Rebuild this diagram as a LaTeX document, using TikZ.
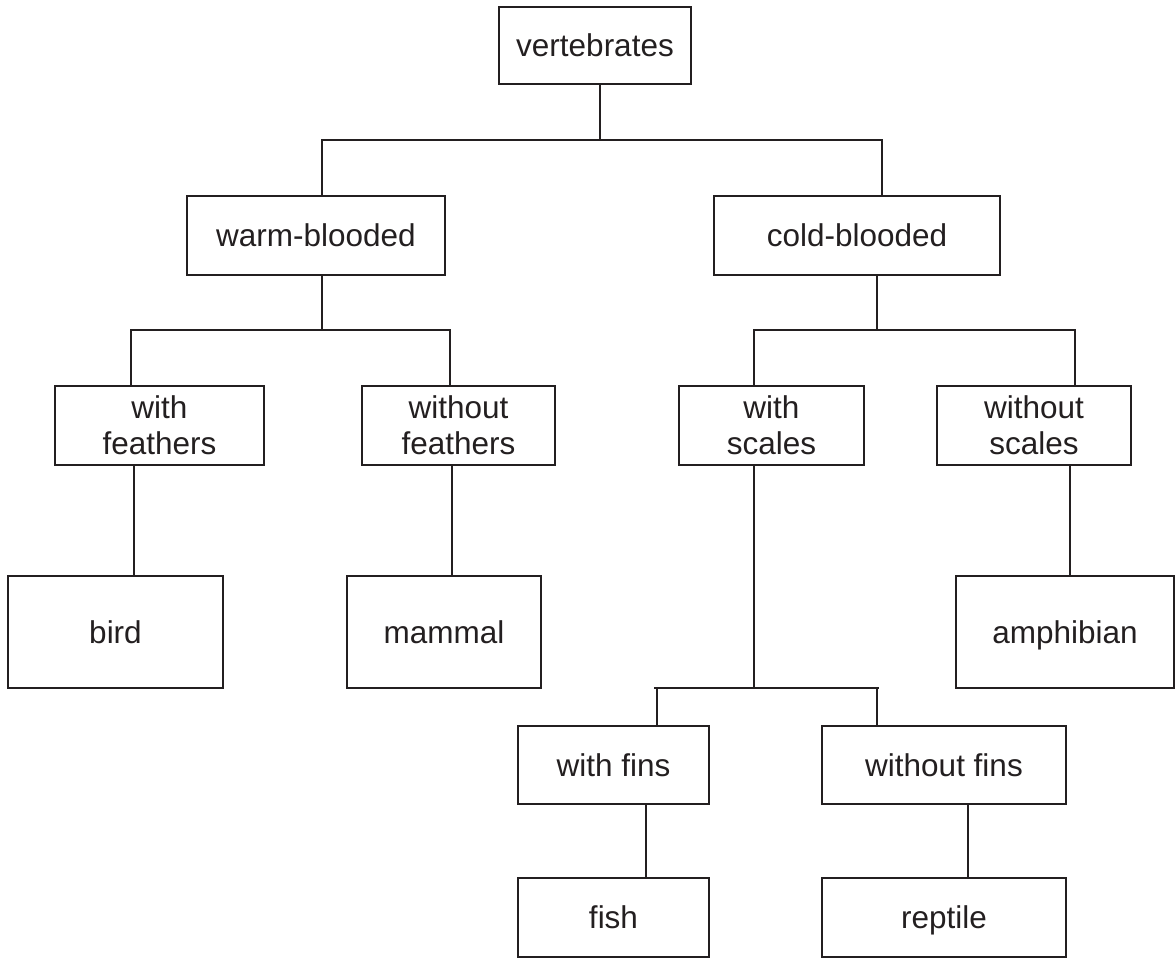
\documentclass[tikz,border=0pt]{standalone}
\usepackage{fontspec}
\setmainfont{Liberation Sans}
\definecolor{ink}{RGB}{35,31,32}
\begin{document}
\begin{tikzpicture}[x=1pt,y=-1pt,
  box/.style={draw=ink, line width=2.5pt, rectangle, inner sep=0pt, outer sep=0pt,
    align=center, text=ink, font=\fontsize{31.5}{36}\selectfont},
  onebox/.style={box, text height=22.5pt, text depth=0pt},
  link/.style={draw=ink, line width=2pt}]
\useasboundingbox (0,0) rectangle (1176,958);

% boxes
\node[onebox, minimum width=192pt, minimum height=77pt] (vert) at (595,45.5) {vertebrates};
\node[onebox, minimum width=258pt, minimum height=79pt] (warm) at (316,235.5) {warm-blooded};
\node[onebox, minimum width=286pt, minimum height=79pt] (cold) at (857,235.5) {cold-blooded};
\node[box, minimum width=209pt, minimum height=79pt] (withF) at (159.5,425.5) {with\\feathers};
\node[box, minimum width=193pt, minimum height=79pt] (withoutF) at (458.5,425.5) {without\\feathers};
\node[box, minimum width=185pt, minimum height=79pt] (withS) at (771.5,425.5) {with\\scales};
\node[box, minimum width=194pt, minimum height=79pt] (withoutS) at (1034,425.5) {without\\scales};
\node[onebox, minimum width=215pt, minimum height=112pt] (bird) at (115.5,632) {bird};
\node[onebox, minimum width=194pt, minimum height=112pt] (mammal) at (444,632) {mammal};
\node[onebox, minimum width=218pt, minimum height=112pt] (amph) at (1065,632) {amphibian};
\node[onebox, minimum width=191pt, minimum height=78pt] (fins) at (613.5,765) {with fins};
\node[onebox, minimum width=244pt, minimum height=78pt] (nofins) at (944,765) {without fins};
\node[onebox, minimum width=191pt, minimum height=79pt] (fish) at (613.5,917.5) {fish};
\node[onebox, minimum width=244pt, minimum height=79pt] (reptile) at (944,917.5) {reptile};

% junction points of the branching lines
\coordinate (b1m) at (600,140);
\coordinate (b1l) at (322,140);
\coordinate (b1r) at (882,140);
\coordinate (b2m) at (322,330);
\coordinate (b2l) at (131,330);
\coordinate (b2r) at (450,330);
\coordinate (b3m) at (877,330);
\coordinate (b3l) at (754,330);
\coordinate (b3r) at (1075,330);
\coordinate (b4m) at (754,688);
\coordinate (b4l) at (657,688);
\coordinate (b4r) at (877,688);
\coordinate (vbird) at (134,520);
\coordinate (vmammal) at (452,520);
\coordinate (vamph) at (1070,520);
\coordinate (vfish) at (646,840);
\coordinate (vreptile) at (968,840);

% vertebrates
\draw[link] (vert.south -| b1m) -- (b1m);
\draw[link] (warm.north -| b1l) -- (b1l) -- (b1r) -- (cold.north -| b1r);
% warm-blooded
\draw[link] (warm.south -| b2m) -- (b2m);
\draw[link] (withF.north -| b2l) -- (b2l) -- (b2r) -- (withoutF.north -| b2r);
% cold-blooded
\draw[link] (cold.south -| b3m) -- (b3m);
\draw[link] (withS.north -| b3l) -- (b3l) -- (b3r) -- (withoutS.north -| b3r);
% feathers
\draw[link] (withF.south -| vbird) -- (bird.north -| vbird);
\draw[link] (withoutF.south -| vmammal) -- (mammal.north -| vmammal);
% scales
\draw[link] (withoutS.south -| vamph) -- (amph.north -| vamph);
\draw[link] (withS.south -| b4m) -- (b4m);
\draw[link] ([xshift=-3pt]b4l) -- ([xshift=2pt]b4r);
\draw[link] (fins.north -| b4l) -- (b4l);
\draw[link] (nofins.north -| b4r) -- (b4r);
% fins
\draw[link] (fins.south -| vfish) -- (fish.north -| vfish);
\draw[link] (nofins.south -| vreptile) -- (reptile.north -| vreptile);
\end{tikzpicture}
\end{document}
